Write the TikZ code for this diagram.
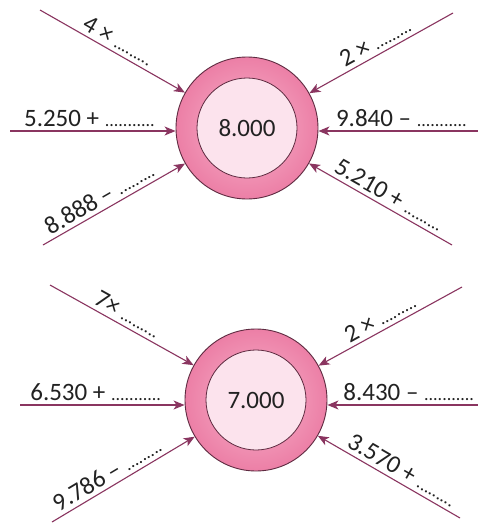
\documentclass[tikz,border=0pt]{standalone}
\usepackage{fontspec}
\setmainfont{Carlito}
\usetikzlibrary{arrows.meta}
\definecolor{lnc}{HTML}{8A3560}
\definecolor{ringl}{HTML}{F8B4CC}
\definecolor{ringd}{HTML}{EC7FA6}
\definecolor{innc}{HTML}{FCE3ED}
\definecolor{edgec}{HTML}{5E2A40}
\definecolor{txt}{HTML}{222222}
\newcommand\dd[1]{{\fontsize{18}{18}\selectfont #1}}
\tikzset{
  ring/.style={circle, minimum size=142pt, inner sep=0pt, draw=edgec, line width=0.9pt,
               inner color=ringl, outer color=ringd},
  core/.style={circle, minimum size=100pt, inner sep=0pt, draw=edgec, line width=0.8pt,
               fill=innc, text=txt, font=\fontsize{25}{25}\selectfont},
  arr/.style={draw=lnc, line width=1.1pt, -{Stealth[length=11pt,width=9pt,inset=3pt]}},
  arrb/.style={draw=lnc, line width=1.1pt, {Stealth[length=11pt,width=9pt,inset=3pt]}-},
  lbl/.style={sloped, above=4pt, inner sep=0pt, text=txt, font=\fontsize{25}{25}\selectfont},
}
\begin{document}
\begin{tikzpicture}[x=1pt, y=-1pt]
\useasboundingbox[fill=white] (0,0) rectangle (478,525);

% ---------- top ----------
\node[ring] (o1) at (247,128) {};
\node[core] (c1) at (247,128) {8.000};

\coordinate (a1) at (40,10);
\coordinate (a2) at (10,131);
\coordinate (a3) at (43,245);
\coordinate (a4) at (453,13);
\coordinate (a5) at (478,131);
\coordinate (a6) at (452,245);

\draw[arr] (a1) -- (o1) node[lbl, pos=0.5] {4 × \dd{.........}};
\draw[arr] (a2) -- (a2 -| o1.west) node[lbl, pos=0.48] {5.250 + \dd{...........}};
\draw[arr] (a3) -- (o1) node[lbl, pos=0.44] {8.888 – \dd{.........}};
\draw[arrb] (o1) -- (a4) node[lbl, pos=0.5] {2 × \dd{.........}};
\draw[arrb] (a5 -| o1.east) -- (a5) node[lbl, pos=0.52] {9.840 – \dd{...........}};
\draw[arrb] (o1) -- (a6) node[lbl, pos=0.52] {5.210 + \dd{.........}};

% ---------- bottom ----------
\node[ring] (o2) at (256,400) {};
\node[core] (c2) at (256,400) {7.000};

\coordinate (b1) at (50,285);
\coordinate (b2) at (20,405);
\coordinate (b3) at (52,522);
\coordinate (b4) at (462,287);
\coordinate (b5) at (478,405);
\coordinate (b6) at (460,518);

\draw[arr] (b1) -- (o2) node[lbl, pos=0.5] {7× \dd{.........}};
\draw[arr] (b2) -- (b2 -| o2.west) node[lbl, pos=0.46] {6.530 + \dd{...........}};
\draw[arr] (b3) -- (o2) node[lbl, pos=0.43] {9.786 – \dd{.........}};
\draw[arrb] (o2) -- (b4) node[lbl, pos=0.47] {2 × \dd{.........}};
\draw[arrb] (b5 -| o2.east) -- (b5) node[lbl, pos=0.54] {8.430 – \dd{...........}};
\draw[arrb] (o2) -- (b6) node[lbl, pos=0.55] {3.570 + \dd{.........}};
\end{tikzpicture}
\end{document}
